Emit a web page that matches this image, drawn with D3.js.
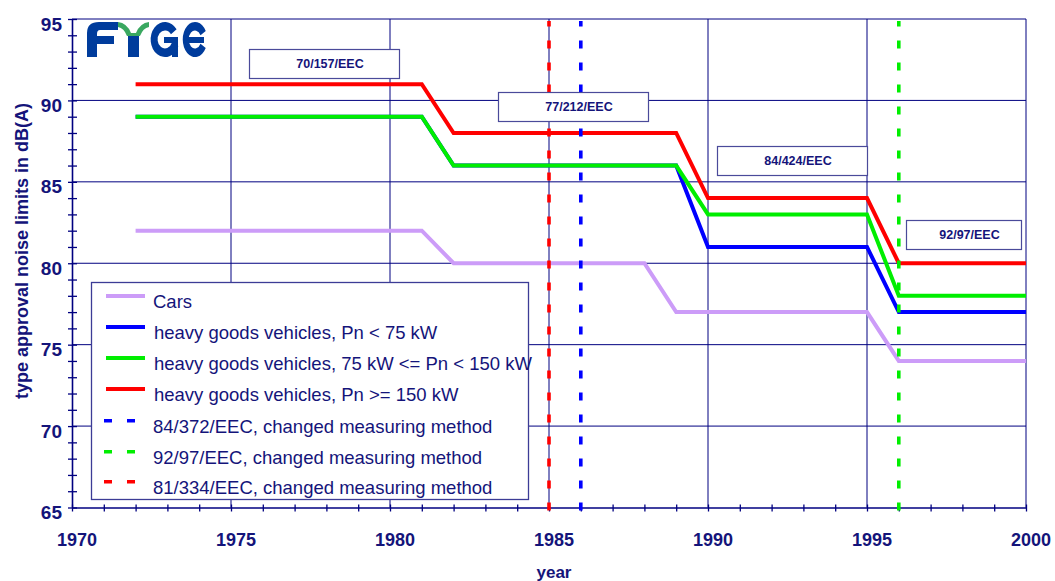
<!DOCTYPE html>
<html><head><meta charset="utf-8">
<script src="https://cdn.jsdelivr.net/npm/d3@7"></script>
<style>body{margin:0;background:#fff}svg{display:block}</style>
</head><body>
<svg id="c" width="1055" height="581"></svg>
<script>
// ---- data ----
const carsYears  = [1972,1981,1982,1988,1989,1995,1996,2000];
const carsValues = [82,82,80,80,77,77,74,74];
const hgvYears   = [1972,1981,1982,1989,1990,1995,1996,2000];
const hgvSmall   = [89,89,86,86,81,81,77,77];
const hgvMedium  = [89,89,86,86,83,83,78,78];
const hgvLarge   = [91,91,88,88,84,84,80,80];
const methodYears  = [1986,1996,1985];
const methodLabels = ["84/372/EEC, changed measuring method","92/97/EEC, changed measuring method","81/334/EEC, changed measuring method"];
const directiveLabels = ["70/157/EEC","77/212/EEC","84/424/EEC","92/97/EEC"];
const xTicks = [1970,1975,1980,1985,1990,1995,2000];
const yTicks = [65,70,75,80,85,90,95];

const navy = "#000080", txt = "#14147a";
const FF = "Liberation Sans, Arial, sans-serif";
const svg = d3.select("#c");
const x = d3.scaleLinear().domain([1970,2000]).range([72,1026]);
const y = d3.scaleLinear().domain([65,95]).range([507.5,19]);

// gridlines
svg.append("g").selectAll("line").data(xTicks.slice(1)).join("line")
  .attr("x1",d=>x(d)).attr("x2",d=>x(d)).attr("y1",y(65)).attr("y2",y(95))
  .attr("stroke",navy).attr("stroke-width",1);
svg.append("g").selectAll("line").data(yTicks.slice(1)).join("line")
  .attr("x1",x(1970)).attr("x2",x(2000)).attr("y1",d=>y(d)).attr("y2",d=>y(d))
  .attr("stroke",navy).attr("stroke-width",1);

// axes (ticks crossing)
const yAxis = d3.axisLeft(y).tickValues(d3.range(65,96,1)).tickSize(4).tickFormat("");
const ga = svg.append("g").attr("transform",`translate(${x(1970)},0)`).call(yAxis);
ga.selectAll(".tick line").attr("x2",-4).attr("x1",5).attr("stroke",navy).attr("stroke-width",1.3);
ga.select(".domain").attr("stroke",navy).attr("stroke-width",1.6).attr("d",`M0.5,${y(65)}V${y(95)}`);
const xAxis = d3.axisBottom(x).tickValues(d3.range(1970,2001,1)).tickSize(4).tickFormat("");
const gx = svg.append("g").attr("transform",`translate(0,${y(65)})`).call(xAxis);
gx.selectAll(".tick line").attr("y1",-3).attr("y2",4).attr("stroke",navy).attr("stroke-width",1.3);
gx.select(".domain").attr("stroke",navy).attr("stroke-width",1.6).attr("d",`M${x(1970)},0.5H${x(2000)}`);

// tick labels
svg.append("g").selectAll("text").data(yTicks).join("text")
  .attr("x",62).attr("y",d=>y(d)+5).attr("dy","0.35em").attr("text-anchor","end")
  .attr("font-family",FF).attr("font-weight","bold")
  .attr("font-size",19).attr("fill",txt).text(d=>d);
svg.append("g").selectAll("text").data(xTicks).join("text")
  .attr("x",d=>x(d)+5).attr("y",540).attr("dy","0.35em").attr("text-anchor","middle")
  .attr("font-family",FF).attr("font-weight","bold")
  .attr("font-size",18).attr("fill",txt).text(d=>d);

// axis titles
svg.append("text").attr("transform","translate(22,251) rotate(-90)").attr("dy","0.35em")
  .attr("text-anchor","middle").attr("font-family",FF)
  .attr("font-weight","bold").attr("font-size",18).attr("fill",txt)
  .text("type approval noise limits in dB(A)");
svg.append("text").attr("x",554).attr("y",572).attr("dy","0.35em")
  .attr("text-anchor","middle").attr("font-family",FF)
  .attr("font-weight","bold").attr("font-size",17).attr("fill",txt).text("year");

// series lines
const series = [
  {years:carsYears, vals:carsValues, color:"#cc9cf8", label:"Cars"},
  {years:hgvYears, vals:hgvSmall, color:"#0000ff", label:"heavy goods vehicles, Pn < 75 kW"},
  {years:hgvYears, vals:hgvMedium, color:"#00ee00", label:"heavy goods vehicles, 75 kW <= Pn < 150 kW"},
  {years:hgvYears, vals:hgvLarge, color:"#ff0000", label:"heavy goods vehicles, Pn >= 150 kW"}
];
const line = d3.line().x(d=>x(d[0])).y(d=>y(d[1]));
series.forEach(s=>{
  svg.append("path").datum(s.years.map((yr,i)=>[yr,s.vals[i]]))
    .attr("d",line).attr("fill","none").attr("stroke",s.color)
    .attr("stroke-width",4).attr("stroke-linejoin","miter");
});

// method verticals
const methodColors = ["#0000ff","#00ee00","#ff0000"];
svg.append("g").selectAll("line").data(methodYears).join("line")
  .attr("x1",d=>x(d)).attr("x2",d=>x(d)).attr("y1",y(65)+3).attr("y2",y(95)+2)
  .attr("stroke",(d,i)=>methodColors[i]).attr("stroke-width",3.6)
  .attr("stroke-dasharray","8,14");

// directive boxes
const boxes = [[249,49],[498,92],[717,146],[906,220]];
const boxW = [150,150,150,115];
const gb = svg.append("g");
directiveLabels.forEach((lab,i)=>{
  gb.append("rect").attr("x",boxes[i][0]+0.5).attr("y",boxes[i][1]+0.5).attr("width",boxW[i]).attr("height",29)
    .attr("fill","#fff").attr("stroke","#4a4a9a").attr("stroke-width",1.2);
  gb.append("text").attr("x",boxes[i][0]+boxW[i]/2+6).attr("y",boxes[i][1]+15).attr("dy","0.35em")
    .attr("text-anchor","middle").attr("font-family",FF)
    .attr("font-weight","bold").attr("font-size",12.5).attr("fill",txt).text(lab);
});

// legend
const lg = svg.append("g");
lg.append("rect").attr("x",91.5).attr("y",282.5).attr("width",437).attr("height",217)
  .attr("fill","#fff").attr("stroke","#3c3c96").attr("stroke-width",1.3);
const rowY = [302,333,364,395,427,458,488];
series.forEach((s,i)=>{
  lg.append("line").attr("x1",106).attr("x2",145).attr("y1",rowY[i]-6).attr("y2",rowY[i]-6)
    .attr("stroke",s.color).attr("stroke-width",4);
  lg.append("text").attr("x",i===0?153:154).attr("y",rowY[i]).attr("dy","0.35em")
    .attr("font-family",FF).attr("font-size",18.5)
    .attr("fill",txt).text(s.label);
});
methodLabels.forEach((lab,i)=>{
  const yy = rowY[4+i];
  [104,127].forEach(xx=>lg.append("rect").attr("x",xx).attr("y",yy-8).attr("width",8).attr("height",3.5)
    .attr("fill",methodColors[i]));
  lg.append("text").attr("x",153).attr("y",yy).attr("dy","0.35em")
    .attr("font-family",FF).attr("font-size",18.5)
    .attr("fill",txt).text(lab);
});

// logo
const logo = svg.append("g");
const blue = "#003c9c";
// F with rounded top-left
logo.append("path").attr("d","M87,57 L87,33 Q87,22 99,22 L118,22 L118,30 L100,30 Q97,30 97,34 L97,36 L114,36 L114,44 L97,44 L97,57 Z")
  .attr("fill",blue);
// Y stem + green wings
logo.append("rect").attr("x",128).attr("y",33).attr("width",11).attr("height",24).attr("fill",blue);
logo.append("path").attr("d","M118,22 Q127,23 131,33 L136,33 Q140,23 149,22 L149,27 Q143,28 140,36 L127,36 Q124,28 118,27 Z")
  .attr("fill","#3aa860");
// G
const arcG = d3.arc().innerRadius(9).outerRadius(17.5).startAngle(0.62*Math.PI).endAngle(2.3*Math.PI);
logo.append("path").attr("transform","translate(165,39.5) scale(0.82,1)").attr("d",arcG()).attr("fill",blue);
logo.append("rect").attr("x",164).attr("y",37).attr("width",14).attr("height",6).attr("fill",blue);
logo.append("rect").attr("x",172).attr("y",37).attr("width",6).attr("height",20).attr("fill",blue);
// E (rounded, like a C with a bar)
const arcE = d3.arc().innerRadius(9).outerRadius(17.5).startAngle(0.66*Math.PI).endAngle(2.34*Math.PI);
logo.append("path").attr("transform","translate(195,39.5) scale(0.7,1)").attr("d",arcE()).attr("fill",blue);
logo.append("rect").attr("x",184).attr("y",37).attr("width",20).attr("height",6).attr("fill",blue);
</script>
</body></html>
